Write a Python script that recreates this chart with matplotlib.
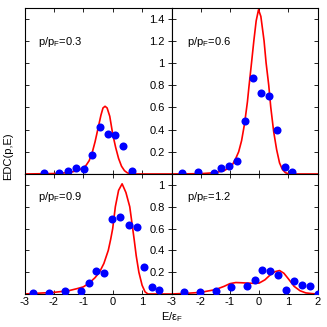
import matplotlib
matplotlib.use("Agg")
import matplotlib.pyplot as plt

plt.rcParams['font.family'] = ['Liberation Sans', 'DejaVu Sans']
plt.rcParams['mathtext.fontset'] = 'custom'
plt.rcParams['mathtext.rm'] = 'Liberation Sans'
plt.rcParams['mathtext.it'] = 'Liberation Sans:italic'

# ---- data ----
labels = ["0.3", "0.6", "0.9", "1.2"]

pts_x_03 = [-2.32, -1.81, -1.53, -1.25, -0.97, -0.71, -0.43, -0.16, 0.09, 0.36, 0.64]
pts_y_03 = [0.01, 0.01, 0.025, 0.054, 0.045, 0.17, 0.425, 0.36, 0.35, 0.25, 0.03]
crv_x_03 = [-3.0, -2.0, -1.5, -1.2, -1.0, -0.9, -0.8, -0.7, -0.6, -0.5, -0.4, -0.33, -0.26,
            -0.19, -0.1, 0.0, 0.1, 0.2, 0.3, 0.4, 0.5, 0.6, 0.8, 2.0]
crv_y_03 = [0.0, 0.004, 0.012, 0.03, 0.055, 0.08, 0.12, 0.19, 0.29, 0.41, 0.53, 0.595, 0.61,
            0.595, 0.52, 0.36, 0.24, 0.14, 0.07, 0.03, 0.01, 0.003, 0.0, 0.0]

pts_x_06 = [-2.63, -2.09, -1.56, -1.30, -1.02, -0.75, -0.48, -0.22, 0.06, 0.33, 0.60, 0.88, 1.14]
pts_y_06 = [0.006, 0.015, 0.012, 0.054, 0.075, 0.12, 0.475, 0.868, 0.727, 0.705, 0.40, 0.06, 0.018]
crv_x_06 = [-3.0, -2.0, -1.5, -1.2, -1.0, -0.9, -0.8, -0.7, -0.6, -0.5, -0.4, -0.35, -0.26,
            -0.18, -0.1, -0.02, 0.06, 0.17, 0.24, 0.33, 0.4, 0.5, 0.6, 0.7, 0.8, 0.9, 1.0, 1.2, 2.0]
crv_y_06 = [0.0, 0.003, 0.012, 0.03, 0.06, 0.09, 0.14, 0.2, 0.3, 0.45, 0.65, 0.78, 1.0,
            1.2, 1.38, 1.48, 1.42, 1.2, 1.0, 0.8, 0.6, 0.38, 0.22, 0.1, 0.04, 0.012, 0.003, 0.0, 0.0]

pts_x_09 = [-2.70, -2.16, -1.63, -1.09, -0.82, -0.56, -0.28, -0.01, 0.26, 0.54, 0.81, 1.07, 1.33, 1.59]
pts_y_09 = [0.006, 0.012, 0.03, 0.03, 0.097, 0.215, 0.19, 0.685, 0.705, 0.63, 0.61, 0.25, 0.06, 0.036]
crv_x_09 = [-3.0, -2.5, -2.0, -1.5, -1.2, -1.0, -0.8, -0.6, -0.45, -0.3, -0.15, -0.07, 0.0,
            0.09, 0.2, 0.32, 0.45, 0.58, 0.73, 0.8, 0.89, 1.0, 1.1, 1.2, 2.0]
crv_y_09 = [0.0, 0.008, 0.015, 0.03, 0.05, 0.065, 0.1, 0.15, 0.2, 0.28, 0.4, 0.5, 0.6,
            0.8, 0.95, 1.01, 0.93, 0.8, 0.5, 0.35, 0.2, 0.08, 0.02, 0.0, 0.0]

pts_x_12 = [-2.57, -2.02, -1.49, -0.96, -0.41, -0.15, 0.11, 0.39, 0.66, 0.93, 1.20, 1.48, 1.74, 2.0]
pts_y_12 = [0.015, 0.015, 0.027, 0.067, 0.07, 0.13, 0.22, 0.21, 0.17, 0.036, 0.118, 0.085, 0.073, 0.0]
crv_x_12 = [-3.0, -2.5, -2.0, -1.5, -1.2, -1.0, -0.8, -0.6, -0.4, -0.2, 0.0, 0.2, 0.4, 0.55,
            0.7, 0.85, 1.0, 1.2, 1.4, 1.6, 1.8, 2.0]
crv_y_12 = [0.0, 0.006, 0.015, 0.04, 0.07, 0.095, 0.105, 0.103, 0.1, 0.098, 0.1, 0.13, 0.18, 0.205,
            0.215, 0.19, 0.14, 0.07, 0.03, 0.01, 0.004, 0.0]

xticks = [-3, -2, -1, 0, 1, 2]
yticks_top = [0.2, 0.4, 0.6, 0.8, 1.0, 1.2, 1.4]
yticks_bot = [0.2, 0.4, 0.6, 0.8, 1.0]

# ---- figure ----
W = 327
fig = plt.figure(figsize=(3.27, 3.27), dpi=100)

def fr(px):
    return px / W

lx, rx = fr(24.5), fr(171.5)
lw_, rw_ = fr(147), fr(146)
top_b, top_h = 1 - fr(174), fr(166.5)
bot_b, bot_h = 1 - fr(294), fr(120)

axs = [
    fig.add_axes([lx, top_b, lw_, top_h]),
    fig.add_axes([rx, top_b, rw_, top_h]),
    fig.add_axes([lx, bot_b, lw_, bot_h]),
    fig.add_axes([rx, bot_b, rw_, bot_h]),
]
data = [
    (pts_x_03, pts_y_03, crv_x_03, crv_y_03),
    (pts_x_06, pts_y_06, crv_x_06, crv_y_06),
    (pts_x_09, pts_y_09, crv_x_09, crv_y_09),
    (pts_x_12, pts_y_12, crv_x_12, crv_y_12),
]
fs = 8
for i, (ax, (px, py, cx, cy)) in enumerate(zip(axs, data)):
    ax.plot(cx, cy, color='#ff0000', lw=1.2, zorder=2)
    ax.plot(px, py, 'o', color='#0000ff', ms=5.8, mec='none', zorder=3)
    ax.set_xlim(-3, 2)
    top = i < 2
    ax.set_ylim(0, 1.5 if top else 1.1)
    ax.set_xticks(xticks)
    ax.set_yticks(yticks_top if top else yticks_bot)
    ax.tick_params(direction='in', length=3, width=0.6, top=True, right=True,
                   labelsize=fs, pad=2)
    for s in ax.spines.values():
        s.set_linewidth(0.8)
    if top:
        ax.set_xticklabels([])
    else:
        if i == 2:
            ax.set_xticklabels(['-3', '-2', '-1', '0', '1', ''])
        else:
            ax.set_xticklabels(['-3', '-2', '-1', '0', '1', '2'])
    if i in (0, 2):
        ax.set_yticklabels([])
    else:
        ax.set_yticklabels(['%g' % v for v in ax.get_yticks()])
        ax.tick_params(axis='y', pad=5)
    ax.text(0.095 if i in (0, 2) else 0.104, 0.795 if top else 0.81,
            r'p/p$_\mathrm{F}$=' + labels[i], transform=ax.transAxes,
            fontsize=fs, va='center', ha='left')

fig.text(fr(8.5), 1 - fr(156), 'EDC(p,E)', rotation=90, fontsize=fs,
         ha='center', va='center')
fig.text(fr(171.5), 1 - fr(317), r'E/ε$_\mathrm{F}$', fontsize=fs,
         ha='center', va='center')

fig.savefig('out.png', dpi=100)
